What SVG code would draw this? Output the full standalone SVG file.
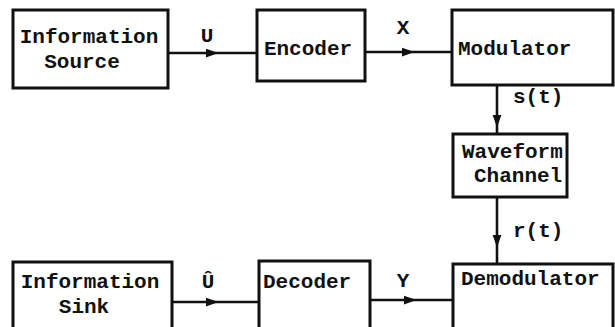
<svg xmlns="http://www.w3.org/2000/svg" width="615" height="327" viewBox="0 0 615 327">
<style>
.box{fill:none;stroke:#111;stroke-width:3}
.t{font-family:"Liberation Mono","Courier New",monospace;font-weight:bold;font-size:21px;fill:#111}
.c{fill:none;stroke:#111;stroke-width:2.6}
</style>
<defs>
<marker id="ah" viewBox="0 0 10 10" refX="5" refY="5" markerWidth="5" markerHeight="5" orient="auto" markerUnits="strokeWidth">
<path d="M0,1.5 L10,5 L0,8.5 Z" fill="#111"/>
</marker>
</defs>
<rect width="615" height="327" fill="#fff"/>
<g id="connectors">
<path class="c" d="M168,53 L212,53 L257,53" marker-mid="url(#ah)"/>
<path class="c" d="M365,52 L408,52 L452,52" marker-mid="url(#ah)"/>
<path class="c" d="M497,85 L497,121 L497,134" marker-mid="url(#ah)"/>
<path class="c" d="M497,197 L497,241 L497,264" marker-mid="url(#ah)"/>
<path class="c" d="M172,302 L212,302 L259,302" marker-mid="url(#ah)"/>
<path class="c" d="M370,300 L410,300 L453,300" marker-mid="url(#ah)"/>
<text class="t" x="207" y="42" text-anchor="middle">U</text>
<text class="t" x="403" y="34" text-anchor="middle">X</text>
<text class="t" x="513" y="103">s(t)</text>
<text class="t" x="513" y="237">r(t)</text>
<text class="t" x="208" y="288" text-anchor="middle">Û</text>
<text class="t" x="403" y="287" text-anchor="middle">Y</text>
</g>
<g id="source">
<rect class="box" x="13" y="10" width="155" height="78"/>
<text class="t" x="89" y="43" text-anchor="middle">Information</text>
<text class="t" x="82" y="68" text-anchor="middle">Source</text>
</g>
<g id="encoder">
<rect class="box" x="257" y="10" width="108" height="71"/>
<text class="t" x="308" y="55" text-anchor="middle">Encoder</text>
</g>
<g id="modulator">
<rect class="box" x="452" y="10" width="161" height="75"/>
<text class="t" x="458" y="55">Modulator</text>
</g>
<g id="channel">
<rect class="box" x="453" y="134" width="114" height="63"/>
<text class="t" x="462" y="158">Waveform</text>
<text class="t" x="474" y="182">Channel</text>
</g>
<g id="sink">
<rect class="box" x="13" y="262" width="159" height="80"/>
<text class="t" x="90" y="288" text-anchor="middle">Information</text>
<text class="t" x="84" y="313" text-anchor="middle">Sink</text>
</g>
<g id="decoder">
<rect class="box" x="259" y="261" width="111" height="80"/>
<text class="t" x="263" y="288">Decoder</text>
</g>
<g id="demodulator">
<rect class="box" x="453" y="264" width="160" height="80"/>
<text class="t" x="461" y="285">Demodulator</text>
</g>
</svg>
